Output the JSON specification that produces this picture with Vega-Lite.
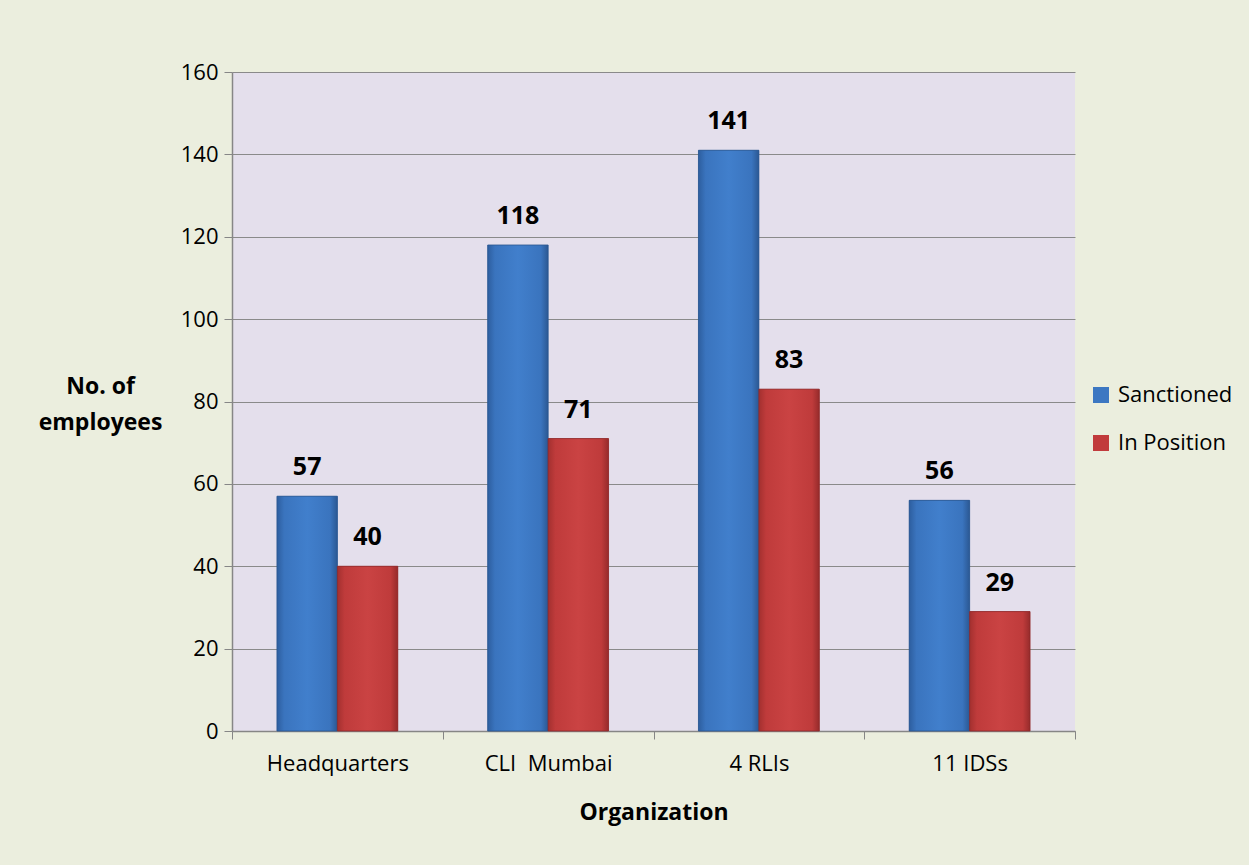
{
  "$schema": "https://vega.github.io/schema/vega-lite/v6.json",
  "width": 843,
  "height": 659,
  "autosize": {"type": "none"},
  "padding": {"left": 232, "top": 72, "right": 174, "bottom": 134},
  "background": "#EBEEDE",
  "data": {
    "values": [
      {"org": "Headquarters", "series": "Sanctioned", "value": 57},
      {"org": "Headquarters", "series": "In Position", "value": 40},
      {"org": "CLI\u00a0 Mumbai", "series": "Sanctioned", "value": 118},
      {"org": "CLI\u00a0 Mumbai", "series": "In Position", "value": 71},
      {"org": "4 RLIs", "series": "Sanctioned", "value": 141},
      {"org": "4 RLIs", "series": "In Position", "value": 83},
      {"org": "11 IDSs", "series": "Sanctioned", "value": 56},
      {"org": "11 IDSs", "series": "In Position", "value": 29}
    ]
  },
  "encoding": {
    "x": {
      "field": "org",
      "type": "nominal",
      "sort": null,
      "scale": {"paddingInner": 0, "paddingOuter": 0},
      "axis": {
        "title": "Organization",
        "titleFont": "Open Sans",
        "titleFontSize": 23,
        "titleFontWeight": "bold",
        "titleColor": "#000000",
        "titleBaseline": "alphabetic",
        "titleY": 88,
        "labelFont": "Open Sans",
        "labelFontSize": 22,
        "labelColor": "#000000",
        "labelAngle": 0,
        "labelPadding": 14,
        "tickBand": "extent",
        "tickSize": 8,
        "tickColor": "#868686",
        "domainColor": "#868686",
        "domainWidth": 1.5,
        "grid": false
      }
    },
    "xOffset": {
      "field": "series",
      "type": "nominal",
      "sort": ["Sanctioned", "In Position"],
      "scale": {"paddingInner": 0, "paddingOuter": 0.744}
    },
    "y": {
      "field": "value",
      "type": "quantitative",
      "scale": {"domain": [0, 160], "nice": false},
      "axis": {
        "values": [0, 20, 40, 60, 80, 100, 120, 140, 160],
        "title": ["No. of", "employees"],
        "titleFont": "Open Sans",
        "titleFontSize": 23,
        "titleFontWeight": "bold",
        "titleColor": "#000000",
        "titleAngle": 0,
        "titleAlign": "center",
        "titleBaseline": "alphabetic",
        "titleX": -132,
        "titleY": 321,
        "titleLineHeight": 36,
        "labelFont": "Open Sans",
        "labelFontSize": 22,
        "labelColor": "#000000",
        "labelPadding": 6,
        "tickSize": 8,
        "tickColor": "#868686",
        "domainColor": "#868686",
        "domainWidth": 1.5,
        "gridColor": "#8A8A8A",
        "gridWidth": 1.2
      }
    }
  },
  "layer": [
    {
      "mark": {"type": "bar"},
      "encoding": {
        "color": {
          "field": "series",
          "type": "nominal",
          "sort": ["Sanctioned", "In Position"],
          "scale": {"domain": ["Sanctioned", "In Position"], "range": ["#3C77C2", "#C13B3C"]},
          "legend": {
            "title": null,
            "orient": "none",
            "legendX": 858,
            "legendY": 312,
            "padding": 0,
            "symbolType": "square",
            "symbolSize": 256,
            "symbolStrokeWidth": 0,
            "labelFont": "Open Sans",
            "labelFontSize": 22,
            "labelColor": "#000000",
            "labelOffset": 6,
            "rowPadding": 26
          }
        }
      }
    },
    {
      "transform": [{"filter": "datum.series === 'Sanctioned'"}],
      "mark": {
        "type": "bar",
        "stroke": "#2A558F",
        "strokeWidth": 0.8,
        "fill": {
          "gradient": "linear", "x1": 0, "y1": 0, "x2": 1, "y2": 0,
          "stops": [
            {"offset": 0, "color": "#2D5E9F"},
            {"offset": 0.12, "color": "#3A74BE"},
            {"offset": 0.5, "color": "#417FCC"},
            {"offset": 0.88, "color": "#3A74BE"},
            {"offset": 1, "color": "#2B5893"}
          ]
        }
      }
    },
    {
      "transform": [{"filter": "datum.series === 'In Position'"}],
      "mark": {
        "type": "bar",
        "stroke": "#8E2A2B",
        "strokeWidth": 0.8,
        "fill": {
          "gradient": "linear", "x1": 0, "y1": 0, "x2": 1, "y2": 0,
          "stops": [
            {"offset": 0, "color": "#A3302F"},
            {"offset": 0.12, "color": "#BF3B3B"},
            {"offset": 0.5, "color": "#CA4343"},
            {"offset": 0.88, "color": "#BF3B3B"},
            {"offset": 1, "color": "#962B2B"}
          ]
        }
      }
    },
    {
      "mark": {"type": "text", "font": "Open Sans", "fontSize": 25, "fontWeight": "bold", "baseline": "alphabetic", "dy": -21, "color": "#000000"},
      "encoding": {"text": {"field": "value", "type": "quantitative"}}
    }
  ],
  "config": {
    "view": {"fill": "#E4DFEC", "stroke": null},
    "axis": {"gridDash": []}
  }
}
